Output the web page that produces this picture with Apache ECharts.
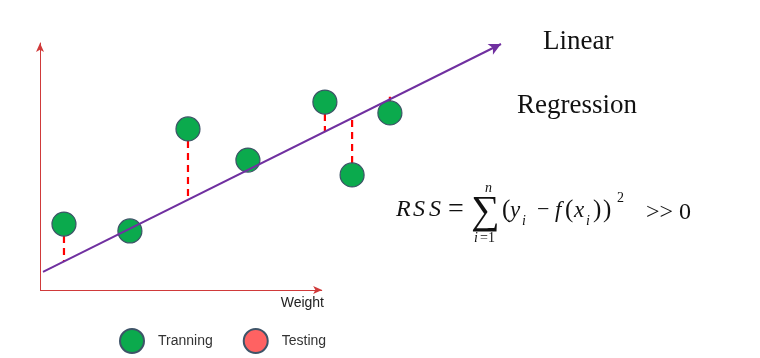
<!DOCTYPE html>
<html><head><meta charset="utf-8">
<script src="https://cdn.jsdelivr.net/npm/echarts@6/dist/echarts.min.js"></script>
<style>html,body{margin:0;padding:0;background:#fff}#c{width:760px;height:358px}</style>
</head><body><div id="c"></div>
<script>
// Training points (data units)
const trainX = [5.2, 19.5, 32.1, 45.1, 61.8, 67.7, 75.9];
const trainY = [26.7, 23.9, 65.2, 52.6, 76.1, 46.6, 71.7];
// fitted value on the regression line under each point (end of red dashes)
const fitY = [11.5, 24.8, 36.5, 48.8, 64.3, 70.2, 78.2];
// Testing points (none shown)
const testX = [];
const testY = [];
// regression line end points
const regX = [0.65, 100];
const regY = [7.3, 99.6];
// x axis (Weight) extent
const axisX = [0, 61.2];
const legendNames = ['Tranning', 'Testing'];
const xName = 'Weight';
const titleLines = ['Linear', 'Regression'];

const green = '#0BAA4D', red = '#FF6262', edge = '#3E5468', axisRed = '#D03A3A';

const residualSeries = trainX.map((x, i) => ({
  type: 'line', silent: true, z: 1, symbol: 'none',
  data: [[x, trainY[i]], [x, fitY[i]]],
  lineStyle: { color: '#FF0000', width: 2.2, type: [7, 5] }
}));

const serif = '"Liberation Serif", "Times New Roman", serif';
function t(text, x, y, size, opts) {
  return Object.assign({ type: 'text', x: x, y: y, silent: true,
    style: Object.assign({ text: text, fontSize: size, fontFamily: serif, fill: '#111',
      verticalAlign: 'middle', align: 'left' }, opts || {}) });
}
const it = { fontStyle: 'italic' };

const option = {
  animation: false,
  grid: { left: 40, right: 259, top: 43, bottom: 68 },
  xAxis: {
    type: 'value', min: 0, max: 100,
    axisLine: { show: false }, axisTick: { show: false }, axisLabel: { show: false },
    splitLine: { show: false }
  },
  yAxis: {
    type: 'value', min: 0, max: 100,
    axisLine: { show: true, symbol: ['none', 'arrow'], symbolSize: [6, 9], lineStyle: { color: axisRed, width: 1 } },
    axisTick: { show: false }, axisLabel: { show: false }, splitLine: { show: false }
  },
  legend: {
    left: 119, top: 328, padding: 0, itemWidth: 24, itemHeight: 24, itemGap: 30, icon: 'circle',
    data: legendNames,
    textStyle: { fontFamily: '"Liberation Sans", Arial, sans-serif', fontSize: 14, color: '#333', padding: [0, 0, 0, 9] }
  },
  series: residualSeries.concat([
    {
      name: legendNames[0], type: 'scatter', z: 3, symbolSize: 24,
      data: trainX.map((x, i) => [x, trainY[i]]),
      itemStyle: { color: green, borderColor: edge, borderWidth: 1.2, opacity: 1 }
    },
    {
      name: legendNames[1], type: 'scatter', z: 3, symbolSize: 24,
      data: testX.map((x, i) => [x, testY[i]]),
      itemStyle: { color: red, borderColor: edge, borderWidth: 1.2, opacity: 1 }
    },
    {
      type: 'line', silent: true, z: 5, symbol: 'none',
      data: [[regX[0], regY[0]], [regX[1], regY[1]]],
      lineStyle: { opacity: 0 },
      markLine: {
        silent: true, animation: false, z: 5,
        label: { show: false },
        emphasis: { disabled: true },
        data: [
          [{ coord: [regX[0], regY[0]], symbol: 'none', lineStyle: { color: '#7030A0', width: 2, type: 'solid' } },
           { coord: [regX[1], regY[1]], symbol: 'arrow', symbolSize: [9, 12] }],
          [{ coord: [axisX[0], 0], symbol: 'none', lineStyle: { color: axisRed, width: 1, type: 'solid' } },
           { coord: [axisX[1], 0], symbol: 'arrow', symbolSize: [6, 9] }]
        ]
      }
    }
  ]),
  graphic: [
    t(titleLines[0], 543, 42, 27),
    t(titleLines[1], 517, 106, 27),
    { type: 'text', x: 324, y: 303, silent: true,
      style: { text: xName, fontSize: 14, fontFamily: '"Liberation Sans", Arial, sans-serif', fill: '#222', align: 'right', verticalAlign: 'middle' } },
    // RSS formula
    t('R', 396, 210, 24, it),
    t('S', 413, 210, 24, it),
    t('S', 429, 210, 24, it),
    t('=', 448, 210, 28),
    t('\u2211', 471, 212, 40),
    t('n', 485, 188, 14, it),
    t('i', 474, 238, 14, it),
    t('=1', 480, 238, 14),
    t('(', 502, 210, 25),
    t('y', 510, 211, 23, it),
    t('i', 522, 221, 14, it),
    t('\u2212', 537, 210, 22),
    t('f', 555, 211, 23, it),
    t('(', 565, 210, 25),
    t('x', 574, 211, 23, it),
    t('i', 586, 221, 14, it),
    t(')', 593, 210, 25),
    t(')', 603, 210, 25),
    t('2', 617, 198, 14),
    t('>> 0', 646, 213, 24)
  ]
};
echarts.init(document.getElementById('c'), null, { renderer: 'canvas' }).setOption(option);
</script>
</body></html>
